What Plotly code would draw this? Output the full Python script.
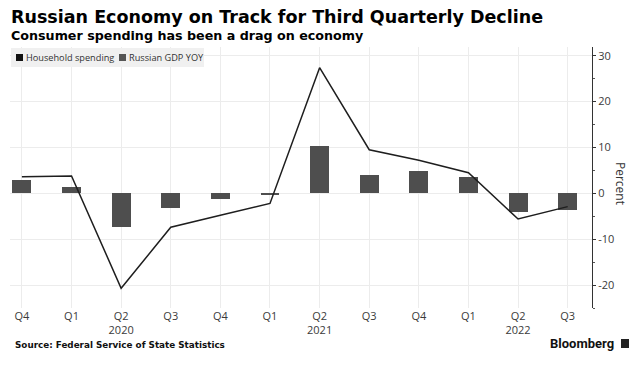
import plotly.graph_objects as go

quarters = ["Q4 2019", "Q1 2020", "Q2 2020", "Q3 2020", "Q4 2020", "Q1 2021",
            "Q2 2021", "Q3 2021", "Q4 2021", "Q1 2022", "Q2 2022", "Q3 2022"]
tick_labels = ["Q4", "Q1", "Q2<br>2020", "Q3", "Q4", "Q1", "Q2<br>2021", "Q3", "Q4", "Q1", "Q2<br>2022", "Q3"]
household_spending = [3.6, 3.8, -20.7, -7.4, -4.8, -2.2, 27.4, 9.5, 7.2, 4.5, -5.6, -2.9]
gdp_yoy = [3.0, 1.4, -7.4, -3.3, -1.3, -0.3, 10.3, 3.9, 4.9, 3.5, -4.1, -3.6]
y_ticks = [-20, -10, 0, 10, 20, 30]
y_tick_text = ["-20", "-10", "0", "10", "20", "30"]
y_minor = [-25, -15, -5, 5, 15, 25]

W, H = 633, 378
PL, PR, PT, PB = 10, 592, 47, 308  # plot area in pixels

x = list(range(len(quarters)))

fig = go.Figure()
fig.add_trace(go.Bar(x=x, y=gdp_yoy, width=0.38, marker=dict(color="#4e4e4e", line=dict(width=0)),
                     name="Russian GDP YOY", showlegend=False))
fig.add_trace(go.Scatter(x=x, y=household_spending, mode="lines", line=dict(color="#1e1e1e", width=1.5),
                         name="Household spending", showlegend=False))

TICKFONT = dict(size=11, color="#3a3a3a", family="Open Sans, sans-serif")
fig.update_layout(
    width=W, height=H,
    margin=dict(l=PL, r=W - PR, t=PT, b=H - PB, pad=0),
    paper_bgcolor="white", plot_bgcolor="white",
    font=dict(family="Open Sans, sans-serif", color="#333"),
    showlegend=False,
    bargap=0,
    xaxis=dict(range=[-0.24, 11.49], tickvals=x, ticktext=tick_labels, showgrid=True,
               gridcolor="#ececec", gridwidth=1, zeroline=False, ticks="", showline=False,
               tickfont=TICKFONT, fixedrange=True),
    yaxis=dict(side="right", range=[-25, 31.9], tickvals=y_ticks, ticktext=y_tick_text,
               showgrid=True, gridcolor="#ececec", zeroline=False,
               showline=True, linecolor="#333", linewidth=1, ticks="outside", ticklen=3,
               tickcolor="#333", tickfont=TICKFONT, fixedrange=True,
               minor=dict(tickvals=y_minor, ticks="outside", ticklen=2, tickcolor="#555", showgrid=False)),
)


def px_x(px):
    return (px - PL) / (PR - PL)


def px_y(py):
    return (PB - py) / (PB - PT)


def text_at(txt, px, py, size, family="DejaVu Sans, sans-serif", bold=False, anchor="left",
            color="#000", angle=0):
    fig.add_annotation(x=px_x(px), y=px_y(py), xref="paper", yref="paper",
                       xanchor=anchor, yanchor="middle", showarrow=False, textangle=angle,
                       text=f"<b>{txt}</b>" if bold else txt,
                       font=dict(size=size, color=color, family=family))


def rect(x0, y0, x1, y1, color):
    fig.add_shape(type="rect", xref="paper", yref="paper",
                  x0=px_x(x0), x1=px_x(x1), y0=px_y(y1), y1=px_y(y0),
                  fillcolor=color, line=dict(width=0), layer="above")


# Title, subtitle
text_at("Russian Economy on Track for Third Quarterly Decline", 9, 17, 17.5, bold=True, color="#000")
text_at("Consumer spending has been a drag on economy", 9, 35, 12.7, bold=True, color="#000")

# Legend
rect(11, 48, 204, 67, "#f0f0f0")
rect(16, 54, 23, 61, "#111111")
text_at("Household spending", 24, 57.5, 9.2, family="Open Sans, sans-serif", color="#333")
rect(119, 54, 126, 61, "#555555")
text_at("Russian GDP YOY", 127, 57.5, 9.2, family="Open Sans, sans-serif", color="#333")

# Axis title
text_at("Percent", 621, 183, 12, family="Open Sans, sans-serif", color="#333", anchor="center", angle=90)

# Source and logo
text_at("Source: Federal Service of State Statistics", 13, 345, 8.8, bold=True, color="#111")
text_at("Bloomberg", 616, 343.5, 13, family="Roboto, sans-serif", bold=True, anchor="right", color="#111")
rect(621, 339, 629, 348, "#222222")

fig.write_html("out.html", config={"displayModeBar": False},
               post_script="document.body.style.margin='0';")
